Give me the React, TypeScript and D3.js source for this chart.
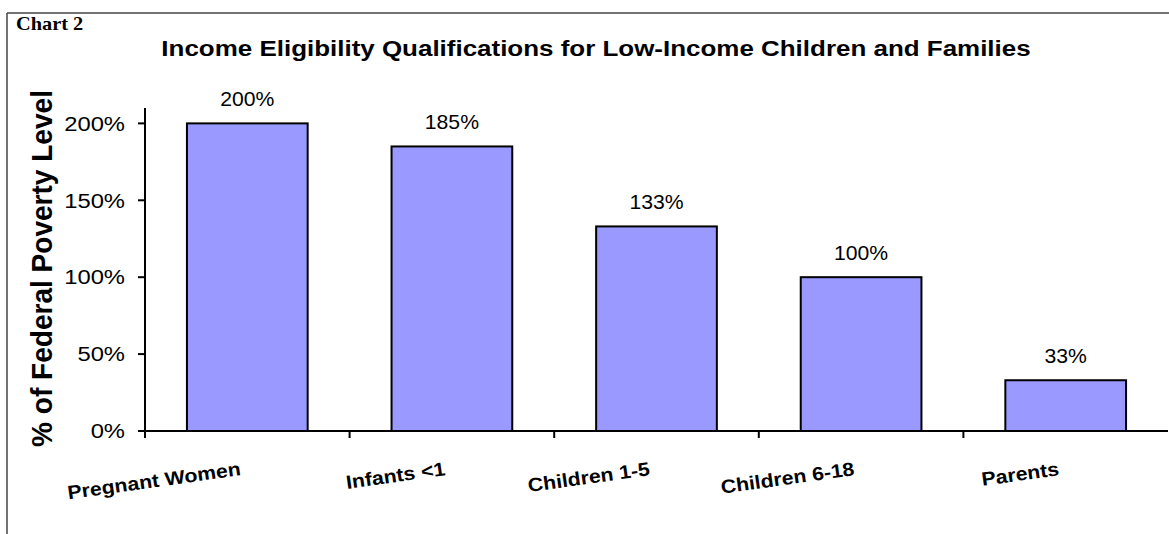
import React from "react";
import * as d3 from "d3";

const categories = ["Pregnant Women", "Infants <1", "Children 1-5", "Children 6-18", "Parents"];
const values = [200, 185, 133, 100, 33];
const yTicks = [0, 50, 100, 150, 200];
const title = "Income Eligibility Qualifications for Low-Income Children and Families";
const yTitle = "% of Federal Poverty Level";

export default function App() {
  const W = 1169, H = 534;
  const left = 145, right = 1168, top = 108, bottom = 431;
  const x = d3.scaleBand<string>().domain(categories).range([left, right]).paddingInner(0).paddingOuter(0);
  const y = d3.scaleLinear().domain([0, 210]).range([bottom, top]);
  const bw = x.bandwidth() * 0.59;
  const font = "Arial, 'Liberation Sans', sans-serif";
  return (
    <svg width={W} height={H} style={{ position: "absolute", left: 0, top: 0, background: "#fff" }}>
      <rect x={0} y={0} width={W} height={H} fill="#fff" />
      <line x1={7} y1={13} x2={W} y2={13} stroke="#444" strokeWidth={1.5} />
      <line x1={7} y1={13} x2={7} y2={H} stroke="#444" strokeWidth={1.5} />
      <text transform="translate(16,30) scale(1.1,1)" fontFamily="'Liberation Serif', 'Times New Roman', serif" fontWeight="bold" fontSize={18.5}>Chart 2</text>
      <text transform="translate(596,56) scale(1.18,1)" textAnchor="middle" fontFamily={font} fontWeight="bold" fontSize={22}>{title}</text>
      <text transform="translate(52,268.5) rotate(-90) scale(0.935,1)" textAnchor="middle" fontFamily={font} fontWeight="bold" fontSize={30}>{yTitle}</text>
      {categories.map((c, i) => {
        const cx = x(c)! + x.bandwidth() / 2;
        return (
          <g key={c}>
            <rect x={cx - bw / 2} y={y(values[i])} width={bw} height={bottom - y(values[i])} fill="#9999FF" stroke="#000" strokeWidth={2} />
            <text transform={`translate(${cx},${y(values[i]) - 17}) scale(1.06,1)`} textAnchor="middle" fontFamily={font} fontSize={20}>{values[i]}%</text>
            <text transform={`translate(${cx - 6},${475}) rotate(-8) scale(1.12,1)`} textAnchor="end" fontFamily={font} fontWeight="bold" fontSize={19}>{c}</text>
          </g>
        );
      })}
      <line x1={left} y1={top} x2={left} y2={bottom} stroke="#000" strokeWidth={2} />
      <line x1={left - 1} y1={bottom} x2={right} y2={bottom} stroke="#000" strokeWidth={2} />
      {yTicks.map((t) => (
        <g key={t}>
          <line x1={left - 7} x2={left} y1={y(t)} y2={y(t)} stroke="#000" strokeWidth={2} />
          <text transform={`translate(125,${y(t) + 7.3}) scale(1.16,1)`} textAnchor="end" fontFamily={font} fontSize={20.5}>{t}%</text>
        </g>
      ))}
      {categories.map((c) => (
        <line key={c} x1={x(c)!} x2={x(c)!} y1={bottom} y2={bottom + 7} stroke="#000" strokeWidth={2} />
      ))}
    </svg>
  );
}
